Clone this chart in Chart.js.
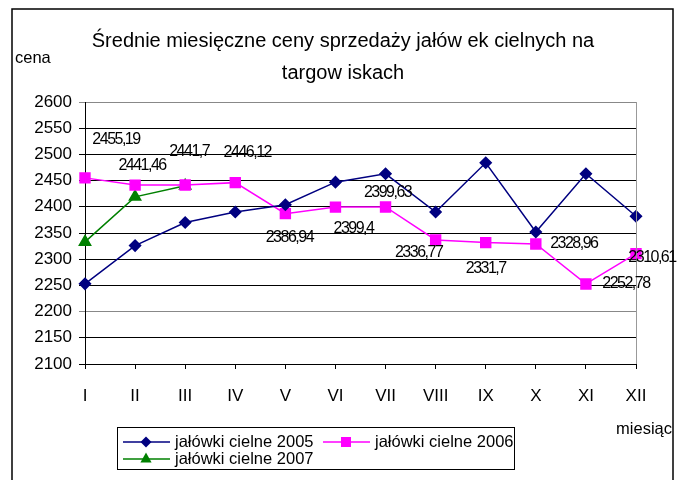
<!DOCTYPE html>
<html>
<head>
<meta charset="utf-8">
<script src="https://cdn.jsdelivr.net/npm/chart.js@4.4.1/dist/chart.umd.min.js"></script>
<style>
  body { margin: 0; background: #fff; }
</style>
</head>
<body>
<canvas id="priceChart" width="685" height="480"></canvas>
<script>
// Monthly prices of in-calf heifers
const months = ['I', 'II', 'III', 'IV', 'V', 'VI', 'VII', 'VIII', 'IX', 'X', 'XI', 'XII'];
const prices2005 = [2253, 2326, 2370, 2390, 2404, 2447, 2463, 2390, 2484, 2352, 2463, 2382];
const prices2006 = [2455.19, 2441.46, 2441.7, 2446.12, 2386.94, 2399.4, 2399.63, 2336.77, 2331.7, 2328.96, 2252.78, 2310.61];
const prices2007 = [2333, 2419, 2440];
const yTicks = [2100, 2150, 2200, 2250, 2300, 2350, 2400, 2450, 2500, 2550, 2600];

// where each 2006 value label sits relative to its point (dx, dy)
const labelOffsets = [[31, -38], [7, -19], [4, -33], [12, -30], [4, 24], [18, 21],
  [2, -14], [-17, 13], [0, 26], [38, 0], [40, 0], [16, 4]];

const FONT = "'Liberation Sans', Arial, sans-serif";
Chart.defaults.font.family = FONT;
Chart.defaults.color = '#000';

const series = [
  { label: 'jałówki cielne 2005', data: prices2005, color: '#000080', shape: 'diamond' },
  { label: 'jałówki cielne 2006', data: prices2006, color: '#FF00FF', shape: 'square' },
  { label: 'jałówki cielne 2007', data: prices2007, color: '#008000', shape: 'triangle' }
];

function marker(ctx, shape, x, y, color) {
  ctx.fillStyle = color;
  ctx.beginPath();
  if (shape === 'diamond') {
    ctx.moveTo(x, y - 5.5); ctx.lineTo(x + 5.5, y); ctx.lineTo(x, y + 5.5); ctx.lineTo(x - 5.5, y);
  } else if (shape === 'square') {
    ctx.rect(x - 5, y - 5, 10, 10);
  } else {
    ctx.moveTo(x, y - 6.5); ctx.lineTo(x + 5.6, y + 3.5); ctx.lineTo(x - 5.6, y + 3.5);
  }
  ctx.closePath();
  ctx.fill();
}

const decorations = {
  id: 'decorations',
  afterDatasetsDraw(chart) {
    const ctx = chart.ctx;
    const area = chart.chartArea;
    ctx.save();

    // right edge of the plot
    ctx.strokeStyle = '#999';
    ctx.lineWidth = 1;
    ctx.beginPath();
    ctx.moveTo(area.right + 0.5, area.top);
    ctx.lineTo(area.right + 0.5, area.bottom);
    ctx.stroke();

    // value labels of 2006
    const meta = chart.getDatasetMeta(1);
    ctx.font = '16px ' + FONT;
    ctx.letterSpacing = '-1.5px';
    ctx.fillStyle = '#000';
    ctx.textAlign = 'center';
    ctx.textBaseline = 'middle';
    meta.data.forEach((pt, i) => {
      const txt = String(prices2006[i]).replace('.', ',');
      ctx.fillText(txt, pt.x + labelOffsets[i][0], pt.y + labelOffsets[i][1]);
    });
    ctx.letterSpacing = '0px';

    // outer frame
    ctx.strokeStyle = '#000';
    ctx.lineWidth = 1.5;
    ctx.strokeRect(12, 9, 661, 490);

    // title and axis names
    ctx.font = '20px ' + FONT;
    ctx.fillText('Średnie miesięczne ceny sprzedaży jałów ek cielnych na', 343, 41);
    ctx.fillText('targow iskach', 343, 73);
    ctx.font = '16.5px ' + FONT;
    ctx.textAlign = 'left';
    ctx.fillText('cena', 15, 58);
    ctx.textAlign = 'right';
    ctx.fillText('miesiąc', 672, 429);

    // legend
    ctx.strokeStyle = '#000';
    ctx.lineWidth = 1;
    ctx.strokeRect(117.5, 427.5, 397, 42);
    const spots = [[123, 442], [323, 442], [123, 459]];
    ctx.textAlign = 'left';
    series.forEach((s, i) => {
      const [x, y] = spots[i];
      ctx.strokeStyle = s.color;
      ctx.lineWidth = 1.5;
      ctx.beginPath();
      ctx.moveTo(x, y);
      ctx.lineTo(x + 47, y);
      ctx.stroke();
      marker(ctx, s.shape, x + 23, y, s.color);
      ctx.fillStyle = '#000';
      ctx.fillText(s.label, x + 52, y);
    });
    ctx.restore();
  }
};

const ctx = document.getElementById('priceChart').getContext('2d');
new Chart(ctx, {
  type: 'line',
  data: {
    labels: months,
    datasets: series.map(s => ({
      label: s.label,
      data: s.data,
      borderColor: s.color,
      backgroundColor: s.color,
      borderWidth: 1.5,
      pointStyle: s.shape === 'diamond' ? 'rectRot' : s.shape === 'square' ? 'rect' : 'triangle',
      pointRadius: s.shape === 'diamond' ? 5.5 : s.shape === 'square' ? 7 : 6.5,
      pointHoverRadius: 7,
      tension: 0,
      fill: false
    }))
  },
  options: {
    responsive: false,
    animation: false,
    layout: { padding: { left: 12, right: 49, top: 102, bottom: 76 } },
    plugins: {
      legend: { display: false },
      tooltip: { enabled: false },
      title: { display: false }
    },
    scales: {
      x: {
        offset: false,
        afterFit(scale) { scale.height = 40; },
        grid: { drawOnChartArea: false, drawTicks: true, tickLength: 5, color: '#000' },
        border: { color: '#000', width: 1 },
        ticks: { font: { size: 17 }, padding: 17, color: '#000' }
      },
      y: {
        min: 2100,
        max: 2600,
        afterFit(scale) { scale.width = 73; },
        afterBuildTicks(scale) { scale.ticks = yTicks.map(v => ({ value: v })); },
        grid: {
          tickLength: 6,
          color: c => (c.tick && (c.tick.value === 2600 || c.tick.value === 2200)) ? '#888' : '#000'
        },
        border: { color: '#000', width: 1 },
        ticks: { font: { size: 17 }, padding: 7, color: '#000', callback: v => String(v) }
      }
    }
  },
  plugins: [decorations]
});
</script>
</body>
</html>
